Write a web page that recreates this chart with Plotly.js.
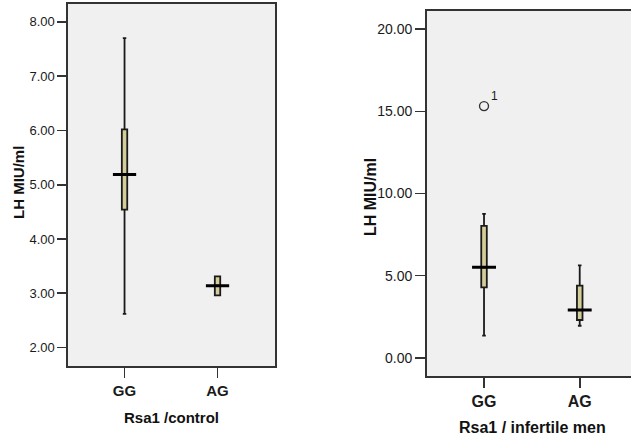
<!DOCTYPE html>
<html>
<head>
<meta charset="utf-8">
<script src="https://cdn.plot.ly/plotly-3.0.1.min.js"></script>
<style>
html, body { margin: 0; padding: 0; overflow: hidden; background: #fff; }
#chart { width: 640px; height: 439px; }
</style>
</head>
<body>
<div id="chart"></div>
<script>
// Categories
const genotypes = ['GG', 'AG'];

// Panel 1: control
const ctrlLower  = [2.62, 2.96];
const ctrlQ1     = [4.54, 2.96];
const ctrlMedian = [5.19, 3.14];
const ctrlQ3     = [6.02, 3.31];
const ctrlUpper  = [7.70, 3.31];

// Panel 2: infertile men
const infLower  = [1.35, 1.95];
const infQ1     = [4.29, 2.30];
const infMedian = [5.51, 2.91];
const infQ3     = [8.03, 4.39];
const infUpper  = [8.76, 5.63];

// Outlier (case 1) in the infertile GG group
const outlierGroup = ['GG'];
const outlierValue = [15.32];
const outlierLabel = ['1'];

// Axis titles
const yTitle = 'LH MIU/ml';
const xTitle1 = 'Rsa1 /control';
const xTitle2 = 'Rsa1 / infertile men';

const boxFill = '#d3cd97';
const dark = '#1a1a1a';

function boxTrace(xa, ya, lo, q1, med, q3, up) {
  return {
    type: 'box', x: genotypes, xaxis: xa, yaxis: ya,
    lowerfence: lo, q1: q1, median: med, q3: q3, upperfence: up,
    width: 0.058, whiskerwidth: 0.65,
    fillcolor: boxFill, line: {color: dark, width: 1.8},
    boxpoints: false, hoverinfo: 'skip', showlegend: false
  };
}
function medianTrace(xa, ya, med) {
  return {
    type: 'box', x: genotypes, xaxis: xa, yaxis: ya,
    lowerfence: med, q1: med, median: med, q3: med, upperfence: med,
    width: 0.25, whiskerwidth: 0,
    fillcolor: 'rgba(0,0,0,0)', line: {color: '#000', width: 3},
    boxpoints: false, hoverinfo: 'skip', showlegend: false
  };
}

const data = [
  boxTrace('x', 'y', ctrlLower, ctrlQ1, ctrlMedian, ctrlQ3, ctrlUpper),
  medianTrace('x', 'y', ctrlMedian),
  boxTrace('x2', 'y2', infLower, infQ1, infMedian, infQ3, infUpper),
  medianTrace('x2', 'y2', infMedian),
  {
    type: 'scatter', mode: 'markers', x: outlierGroup, y: outlierValue,
    xaxis: 'x2', yaxis: 'y2',
    marker: {symbol: 'circle-open', size: 9, color: '#333', line: {width: 1.4, color: '#333'}},
    hoverinfo: 'skip', showlegend: false
  }
];

const W = 640, H = 439;
const font = 'Liberation Sans, Arial, sans-serif';
const yTick1 = {family: font, size: 13, color: dark};
const yTick2 = {family: font, size: 14, color: dark};
const xTick1 = {family: font, size: 15, color: dark, weight: 'bold'};
const xTick2 = {family: font, size: 16, color: dark, weight: 'bold'};
const title1 = {family: font, size: 15, color: '#111', weight: 'bold'};
const title2 = {family: font, size: 16, color: '#111', weight: 'bold'};

const common = {
  showline: true, mirror: true, linecolor: '#333', linewidth: 1.6,
  showgrid: false, zeroline: false, ticks: 'outside', tickcolor: '#333', tickwidth: 1.6
};

const layout = {
  width: W, height: H,
  margin: {l: 0, r: 0, t: 0, b: 0},
  paper_bgcolor: '#ffffff', plot_bgcolor: '#f0f0f0',
  showlegend: false,
  xaxis: Object.assign({}, common, {
    domain: [68 / W, 275 / W], anchor: 'y', type: 'category',
    range: [-0.608, 1.618], ticklen: 10, tickfont: xTick1,
    title: {text: xTitle1, font: title1, standoff: 15}
  }),
  yaxis: Object.assign({}, common, {
    domain: [(H - 366) / H, (H - 4) / H], anchor: 'x',
    range: [1.66, 8.33], tickvals: [2, 3, 4, 5, 6, 7, 8], tickformat: '.2f',
    ticklen: 9, tickfont: yTick1
  }),
  xaxis2: Object.assign({}, common, {
    domain: [426.7 / W, 638 / W], anchor: 'y2', type: 'category',
    range: [-0.599, 1.609], ticklen: 10, tickfont: xTick2,
    title: {text: xTitle2, font: title2, standoff: 13}
  }),
  yaxis2: Object.assign({}, common, {
    domain: [(H - 376) / H, (H - 11) / H], anchor: 'x2',
    range: [-1.11, 21.11], tickvals: [0, 5, 10, 15, 20], tickformat: '.2f',
    ticklen: 10, tickfont: yTick2
  }),
  annotations: [
    {
      xref: 'x2', yref: 'y2', x: outlierGroup[0], y: outlierValue[0],
      text: outlierLabel[0], showarrow: false, xshift: 10, yshift: 10,
      font: {family: font, size: 12, color: dark}
    },
    {
      xref: 'paper', yref: 'paper', x: 18.5 / W, y: (H - 182.5) / H,
      xanchor: 'center', yanchor: 'middle', textangle: -90, showarrow: false,
      text: yTitle, font: title1
    },
    {
      xref: 'paper', yref: 'paper', x: 370 / W, y: (H - 197) / H,
      xanchor: 'center', yanchor: 'middle', textangle: -90, showarrow: false,
      text: yTitle, font: title2
    }
  ]
};

Plotly.newPlot('chart', data, layout, {displayModeBar: false, staticPlot: true});
</script>
</body>
</html>
